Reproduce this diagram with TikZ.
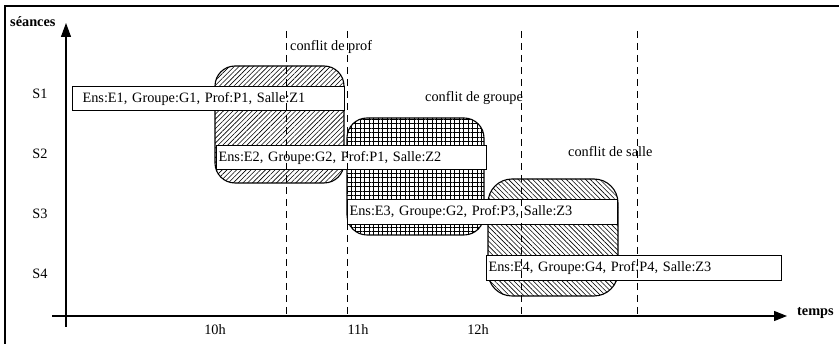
\documentclass[tikz,border=0pt]{standalone}
\usepackage{fontspec}
\setmainfont{Liberation Serif}
\usetikzlibrary{patterns.meta,arrows.meta}
\tikzset{
  txt/.style={font=\fontsize{14.3}{16}\selectfont, inner sep=0pt},
  boldtxt/.style={font=\fontsize{14.3}{16}\selectfont\bfseries, inner sep=0pt},
  slot/.style={draw, fill=white, line width=1.1pt, minimum height=24pt, inner ysep=0pt,
    anchor=north west, align=left, font=\fontsize{14.3}{16}\selectfont},
  confbox/.style={draw, line width=1.1pt, rounded corners=20pt},
  axis/.style={line width=1.1pt},
  guide/.style={line width=0.9pt, dash pattern=on 7pt off 5pt},
}
\begin{document}
\begin{tikzpicture}[x=1pt,y=-1pt]
\useasboundingbox (0,0) rectangle (839,344);
% frame
\draw[line width=2pt] (5,344) -- (5,6) -- (839,6);
% conflict boxes
\draw[confbox, pattern={Lines[angle=45,distance=3.4pt,line width=0.6pt]}] (215,66) rectangle (344,183);
\draw[confbox, pattern={Hatch[angle=0,distance=4.5pt,line width=0.6pt]}] (347,118) rectangle (484,235);
\draw[confbox, rounded corners=24pt, pattern={Lines[angle=-45,distance=3.4pt,line width=0.6pt]}] (488,179) rectangle (618,296);
% sessions
\node[slot, text width=252pt, inner xsep=10pt] (e1) at (72,86) {Ens:E1, Groupe:G1, Prof:P1, Salle:Z1};
\node[slot, text width=266pt, inner xsep=2pt] (e2) at (216,145) {Ens:E2, Groupe:G2, Prof:P1, Salle:Z2};
\node[slot, text width=266pt, inner xsep=2pt, minimum height=25pt] (e3) at (347,199) {Ens:E3, Groupe:G2, Prof:P3, Salle:Z3};
\node[slot, text width=291pt, inner xsep=2pt, minimum height=25pt] (e4) at (486,255) {Ens:E4, Groupe:G4, Prof:P4, Salle:Z3};
% axes
\coordinate (yb) at (66,327);
\coordinate (yt) at (66,23);
\coordinate (xl) at (52,316);
\coordinate (xr) at (787,316);
\draw[axis, -{Triangle[length=14pt,width=10pt]}] (yb) -- (yt);
\draw[axis, -{Triangle[length=13pt,width=10pt]}] (xl) -- (xr);
% guides
\coordinate (g1t) at (286,31); \coordinate (g1b) at (286,316);
\coordinate (g2t) at (347,31); \coordinate (g2b) at (347,316);
\coordinate (g3t) at (521,31); \coordinate (g3b) at (521,316);
\coordinate (g4t) at (637,31); \coordinate (g4b) at (637,316);
\draw[guide] (g1t) -- (g1b);
\draw[guide] (g2t) -- (g2b);
\draw[guide] (g3t) -- (g3b);
\draw[guide] (g4t) -- (g4b);
% labels
\node[boldtxt, anchor=base west] (ys) at (10,27) {séances};
\node[boldtxt, anchor=base west] (xt) at (797,316) {temps};
\node[txt, anchor=base] (s1) at (40,99) {S1};
\node[txt, anchor=base] (s2) at (40,159) {S2};
\node[txt, anchor=base] (s3) at (40,219) {S3};
\node[txt, anchor=base] (s4) at (40,279) {S4};
\node[txt, anchor=base] (h10) at (215,335) {10h};
\node[txt, anchor=base] (h11) at (358,335) {11h};
\node[txt, anchor=base] (h12) at (478,335) {12h};
\node[txt, anchor=base west] (c1) at (290,51) {conflit de prof};
\node[txt, anchor=base west] (c2) at (425,102) {conflit de groupe};
\node[txt, anchor=base west] (c3) at (568,157) {conflit de salle};
\end{tikzpicture}
\end{document}
